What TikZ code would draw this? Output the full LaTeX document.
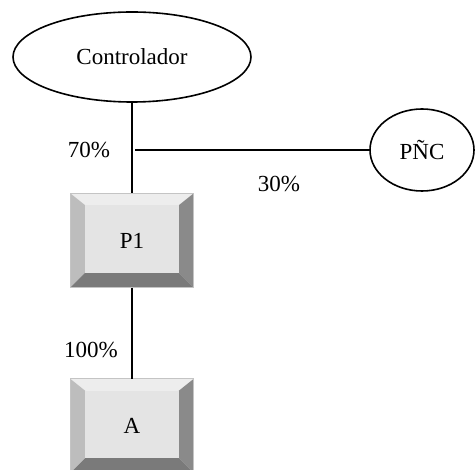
\documentclass[tikz,border=0pt]{standalone}
\usepackage{fontspec}
\setmainfont{Liberation Serif}
\usetikzlibrary{shapes.geometric}
\definecolor{bvtop}{HTML}{EDEDED}
\definecolor{bvleft}{HTML}{BDBDBD}
\definecolor{bvright}{HTML}{8A8A8A}
\definecolor{bvbot}{HTML}{7A7A7A}
\definecolor{bvface}{HTML}{E4E4E4}
\definecolor{bvline}{HTML}{C4C4C4}
\tikzset{
  oval/.style={ellipse, draw, line width=1.6pt, inner sep=0pt, font=\fontsize{23}{27}\selectfont},
  bevelbox/.style={rectangle, minimum width=123pt, minimum height=94pt, inner sep=0pt, font=\fontsize{23}{27}\selectfont},
  conn/.style={line width=1.2pt},
  lbl/.style={font=\fontsize{23}{27}\selectfont, inner sep=0pt}
}
\newcommand{\drawbevel}[1]{%
  \fill[bvtop] (#1.north west) -- (#1.north east) -- ([xshift=-15pt,yshift=-12pt]#1.north east) -- ([xshift=15pt,yshift=-12pt]#1.north west) -- cycle;
  \fill[bvleft] (#1.north west) -- ([xshift=15pt,yshift=-12pt]#1.north west) -- ([xshift=15pt,yshift=15pt]#1.south west) -- (#1.south west) -- cycle;
  \fill[bvright] (#1.north east) -- ([xshift=-15pt,yshift=-12pt]#1.north east) -- ([xshift=-15pt,yshift=15pt]#1.south east) -- (#1.south east) -- cycle;
  \fill[bvbot] (#1.south west) -- ([xshift=15pt,yshift=15pt]#1.south west) -- ([xshift=-15pt,yshift=15pt]#1.south east) -- (#1.south east) -- cycle;
  \fill[bvface] ([xshift=15pt,yshift=-12pt]#1.north west) rectangle ([xshift=-15pt,yshift=15pt]#1.south east);
  \draw[bvline, line width=0.8pt] (#1.north west) rectangle (#1.south east);
}
\begin{document}
\begin{tikzpicture}[x=1pt,y=-1pt]
\useasboundingbox (0,0) rectangle (475,470);
\node[oval, minimum width=238pt, minimum height=90pt] (ctrl) at (132,57) {Controlador};
\node[oval, minimum width=104pt, minimum height=82pt] (pnc) at (422,150) {PÑC};
\node[bevelbox] (p1) at (132,240.5) {};
\node[bevelbox] (a) at (132,426) {};
\drawbevel{p1}
\drawbevel{a}
\node[lbl] at (p1.center) {P1};
\node[lbl] at (a.center) {A};
\coordinate (j) at (135,150);
\draw[conn] (ctrl.south) -- (p1.north);
\draw[conn] (j) -- (pnc.west);
\draw[conn] (p1.south) -- (a.north);
\node[lbl] (l70) at (89,150) {70\%};
\node[lbl] (l30) at (279,184) {30\%};
\node[lbl] (l100) at (91,350) {100\%};
\end{tikzpicture}
\end{document}
